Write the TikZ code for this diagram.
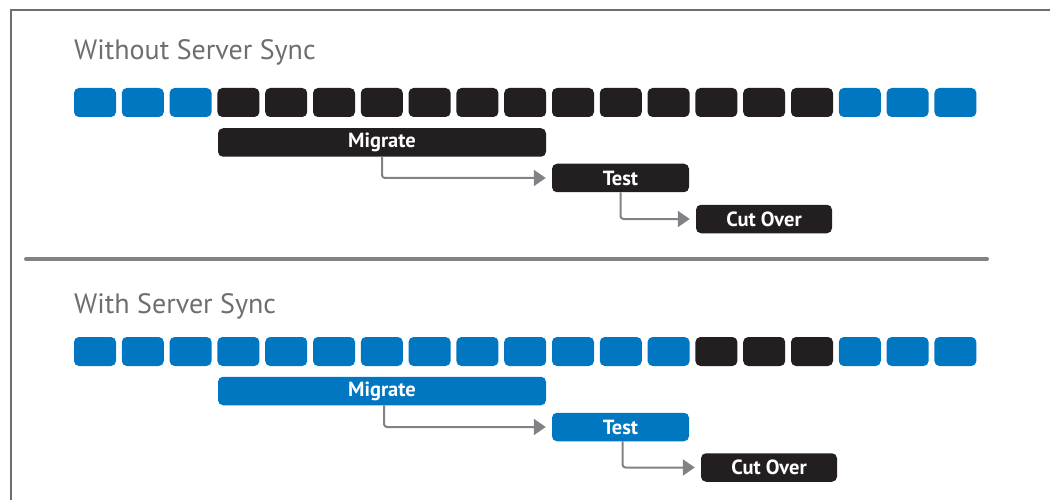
\documentclass[tikz,border=0pt]{standalone}
\usepackage{fontspec}
\setmainfont{PT Sans}
\usetikzlibrary{arrows.meta}

\definecolor{syncblue}{RGB}{0,119,192}
\definecolor{syncblack}{RGB}{35,31,32}
\definecolor{framegray}{RGB}{109,110,113}
\definecolor{arrowgray}{RGB}{128,130,133}

\tikzset{
    slot/.style={rectangle, rounded corners=5pt, inner sep=0pt,
                 minimum width=42pt, minimum height=29pt},
    phase/.style={rectangle, rounded corners=5pt, inner sep=0pt,
                  minimum height=28.5pt, text=white, font=\bfseries\fontsize{20.5}{22}\selectfont},
    flow/.style={draw=arrowgray, line width=2pt, rounded corners=3pt,
                 -{Triangle[length=12pt,width=16pt]}, shorten >=6pt},
    heading/.style={anchor=base west, text=framegray, inner sep=0pt,
                    font=\fontsize{28}{30}\selectfont}
}

\begin{document}
\begin{tikzpicture}[x=1pt, y=-1pt]
    \useasboundingbox (0,0) rectangle (1050,500);

    % frame and separator
    \path[draw, framegray, line width=2.5pt] (11,500) -- (11,10) -- (1050,10);
    \path[draw, arrowgray, line width=4pt, line cap=round] (26,259) -- (987,259);

    % without server sync
    \node[heading] (head1) at (74,60) {Without Server Sync};
    \foreach \i in {0,1,2,16,17,18}
        \node[slot, fill=syncblue] (a\i) at (95+47.8*\i,102.5) {};
    \foreach \i in {3,...,15}
        \node[slot, fill=syncblack] (a\i) at (95+47.8*\i,102.5) {};

    \node[phase, fill=syncblack, minimum width=328pt] (mig1) at (382,142.5) {Migrate};
    \node[phase, fill=syncblack, minimum width=137pt] (test1) at (620.5,178) {Test};
    \node[phase, fill=syncblack, minimum width=136pt] (cut1) at (764,219) {Cut Over};

    \path[flow] (mig1.south) |- (test1.west);
    \path[flow] (test1.south) |- (cut1.west);

    % with server sync
    \node[heading] (head2) at (74,313) {With Server Sync};
    \foreach \i in {0,...,12,16,17,18}
        \node[slot, fill=syncblue] (b\i) at (95+47.8*\i,351.5) {};
    \foreach \i in {13,14,15}
        \node[slot, fill=syncblack] (b\i) at (95+47.8*\i,351.5) {};

    \node[phase, fill=syncblue, minimum width=328pt] (mig2) at (382,391) {Migrate};
    \node[phase, fill=syncblue, minimum width=137pt] (test2) at (620.5,427) {Test};
    \node[phase, fill=syncblack, minimum width=136pt] (cut2) at (769,467.5) {Cut Over};

    \path[flow] ([xshift=2pt]mig2.south) |- (test2.west);
    \path[flow] ([xshift=2pt]test2.south) |- (cut2.west);
\end{tikzpicture}
\end{document}
